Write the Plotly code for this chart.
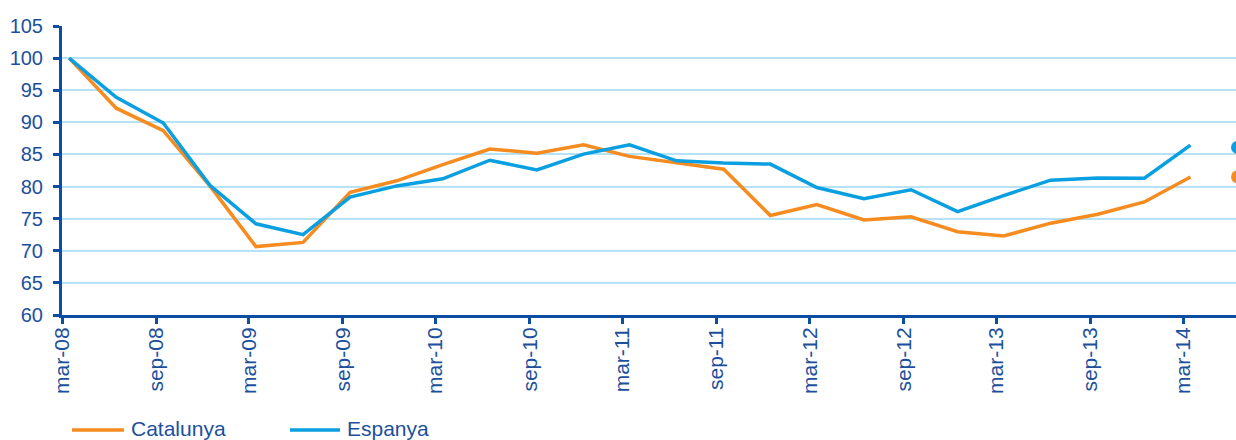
import plotly.graph_objects as go

# Quarterly index (mar-08 = 100)
years = [2008, 2009, 2010, 2011, 2012, 2013, 2014]
quarter_months = [3, 6, 9, 12]
dates = [f"{y}-{m:02d}-15" for y in years for m in quarter_months][:25]

catalunya = [100.0, 92.2, 88.7, 80.1, 70.65, 71.3, 79.1, 80.9, 83.4, 85.85,
             85.2, 86.5, 84.7, 83.65, 82.7, 75.5, 77.2, 74.8, 75.3, 72.97,
             72.3, 74.3, 75.7, 77.6, 81.5]
espanya = [100.0, 93.9, 89.9, 80.2, 74.2, 72.5, 78.35, 80.1, 81.2, 84.1,
           82.6, 85.05, 86.5, 84.0, 83.65, 83.5, 79.85, 78.1, 79.5, 76.1,
           78.6, 81.0, 81.35, 81.3, 86.45]

# Isolated points for the following quarter
extra_date = ["2014-06-15"]
catalunya_extra = [81.5]
espanya_extra = [86.1]

tick_vals = [f"{y}-{m:02d}-01" for y in years for m in (3, 9)][:13]
tick_text = [f"{'mar' if m == 3 else 'sep'}-{str(y)[2:]}" for y in years for m in (3, 9)][:13]

series_names = ["Catalunya", "Espanya"]

ORANGE = "#F68B1F"
BLUE = "#0A9FE0"
DARK = "#0B4EA2"
LABEL = "#1C4F9C"
GRID = "#B5E2F6"
FONT = "Liberation Sans, Arial, sans-serif"

fig = go.Figure()
fig.add_trace(go.Scatter(x=dates, y=catalunya, mode="lines", name=series_names[0],
                         line=dict(color=ORANGE, width=3.5), showlegend=False))
fig.add_trace(go.Scatter(x=dates, y=espanya, mode="lines", name=series_names[1],
                         line=dict(color=BLUE, width=3.5), showlegend=False))
fig.add_trace(go.Scatter(x=extra_date, y=espanya_extra, mode="markers", showlegend=False,
                         marker=dict(color=BLUE, size=13)))
fig.add_trace(go.Scatter(x=extra_date, y=catalunya_extra, mode="markers", showlegend=False,
                         marker=dict(color=ORANGE, size=13)))

# Legend drawn below the plot: line sample + label for each series
W_PLOT = 1236 - 62
H_PLOT = 440 - 26 - 125
def px_x(p):
    return (p - 62) / W_PLOT
def px_y(p):
    return (315 - p) / H_PLOT

legend_items = [(series_names[0], ORANGE, 72, 124, 129), (series_names[1], BLUE, 290, 340, 345)]
for name, col, x0, x1, xt in legend_items:
    fig.add_shape(type="line", xref="paper", yref="paper",
                  x0=px_x(x0), x1=px_x(x1), y0=px_y(430), y1=px_y(430),
                  line=dict(color=col, width=3.5))
    fig.add_annotation(xref="paper", yref="paper", x=px_x(xt), y=px_y(428),
                       xanchor="left", yanchor="middle", showarrow=False,
                       text=name, font=dict(size=21, color=LABEL, family=FONT))

fig.update_layout(
    width=1236, height=440,
    margin=dict(l=62, r=0, t=26, b=125),
    paper_bgcolor="white", plot_bgcolor="white",
    font=dict(family=FONT, color=LABEL, size=20),
    showlegend=False,
    xaxis=dict(type="date", range=["2008-03-01", "2014-06-12"],
               tickvals=tick_vals, ticktext=tick_text, tickangle=-90,
               showgrid=False, zeroline=False,
               showline=True, linecolor=DARK, linewidth=3,
               ticks="outside", ticklen=6, tickwidth=3, tickcolor=DARK,
               ticklabelstandoff=-5,
               tickfont=dict(size=21, color=LABEL)),
    yaxis=dict(range=[60, 105], tickvals=list(range(60, 106, 5)),
               showgrid=True, gridcolor=GRID, gridwidth=2, zeroline=False,
               showline=True, linecolor=DARK, linewidth=3,
               ticks="outside", ticklen=6, tickwidth=3, tickcolor=DARK,
               ticklabelstandoff=6,
               tickfont=dict(size=20, color=LABEL)),
)

fig.write_html("out.html", config={"displayModeBar": False},
               post_script="document.body.style.margin='0';document.body.style.overflow='hidden';")
